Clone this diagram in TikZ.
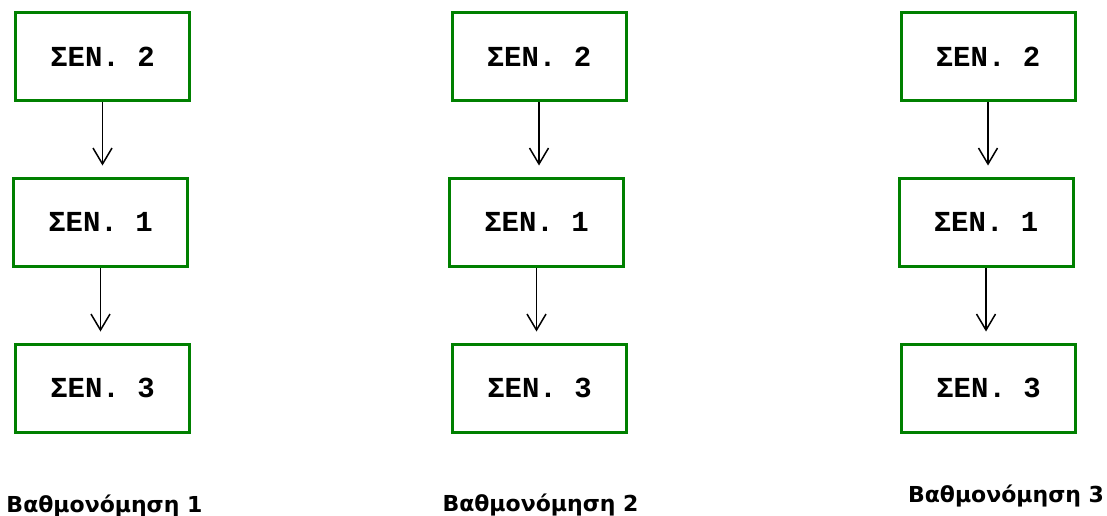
\documentclass[tikz,border=0pt]{standalone}
\usepackage{fontspec}
\usetikzlibrary{arrows.meta}
\newfontfamily\boxfont{Liberation Mono}
\newfontfamily\labelfont{DejaVu Sans}
\definecolor{boxgreen}{RGB}{0,128,0}
\tikzset{
  senbox/.style={draw=boxgreen, line width=3pt, fill=white,
    minimum width=174pt, minimum height=88pt, inner sep=0pt,
    font=\boxfont\bfseries\fontsize{29}{30}\selectfont},
  flow/.style={draw=black, line width=1.5pt, shorten >=11pt,
    -{Straight Barb[length=16pt, width=19pt, line width=1.5pt]}},
  caption/.style={anchor=base, inner sep=0pt,
    font=\labelfont\bfseries\fontsize{22}{24}\selectfont}
}
\begin{document}
\begin{tikzpicture}[x=1pt, y=-1pt]
  \useasboundingbox[fill=white] (0,0) rectangle (1107,516);

  % first ranking
  \node[senbox] (a2) at (102.5,57)  {ΣΕΝ. 2};
  \node[senbox] (a1) at (100.5,222) {ΣΕΝ. 1};
  \node[senbox] (a3) at (102.5,388) {ΣΕΝ. 3};
  \draw[flow] (a2.south) -- (a2.south |- a1.north);
  \draw[flow] (a1.south) -- (a1.south |- a3.north);
  \node[caption] (ta) at (104.5,512.5) {Βαθμονόμηση 1};

  % second ranking
  \node[senbox] (b2) at (539,57)    {ΣΕΝ. 2};
  \node[senbox] (b1) at (536.5,222) {ΣΕΝ. 1};
  \node[senbox] (b3) at (539.5,388) {ΣΕΝ. 3};
  \draw[flow] (b2.south) -- (b2.south |- b1.north);
  \draw[flow] (b1.south) -- (b1.south |- b3.north);
  \node[caption] (tb) at (540.5,511) {Βαθμονόμηση 2};

  % third ranking
  \node[senbox] (c2) at (988,57)    {ΣΕΝ. 2};
  \node[senbox] (c1) at (986,222)   {ΣΕΝ. 1};
  \node[senbox] (c3) at (988.5,388) {ΣΕΝ. 3};
  \draw[flow] (c2.south) -- (c2.south |- c1.north);
  \draw[flow] (c1.south) -- (c1.south |- c3.north);
  \node[caption] (tc) at (1006,502) {Βαθμονόμηση 3};
\end{tikzpicture}
\end{document}
